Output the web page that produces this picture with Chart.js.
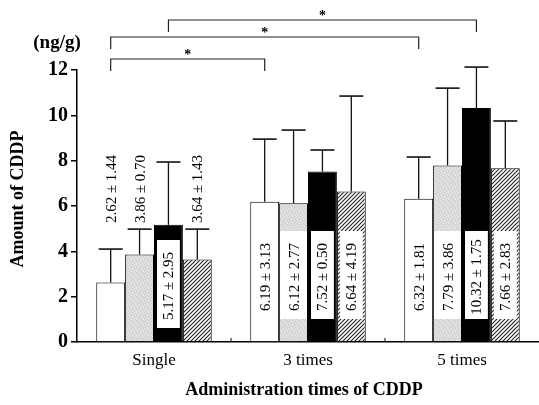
<!DOCTYPE html>
<html>
<head>
<meta charset="utf-8">
<script src="https://cdn.jsdelivr.net/npm/chart.js@4.4.1/dist/chart.umd.min.js"></script>
<style>
  html, body { margin: 0; padding: 0; background: #fff; }
  canvas { display: block; }
</style>
</head>
<body>
<canvas id="cddpChart" width="539" height="405"></canvas>
<script>
// Data
const categories = ['Single', '3 times', '5 times'];

const whiteMean = [2.62, 6.19, 6.32];
const grayMean = [3.86, 6.12, 7.79];
const blackMean = [5.17, 7.52, 10.32];
const hatchMean = [3.64, 6.64, 7.66];

const whiteSD = [1.44, 3.13, 1.81];
const graySD = [0.70, 2.77, 3.86];
const blackSD = [2.95, 0.50, 1.75];
const hatchSD = [1.43, 4.19, 2.83];

// tops of the drawn error bars as they appear in the figure
const whiteErrTop = [4.1, 8.95, 8.16];
const grayErrTop = [4.98, 9.35, 11.2];
const blackErrTop = [7.94, 8.47, 12.13];
const hatchErrTop = [4.98, 10.85, 9.75];

const yTicks = [0, 2, 4, 6, 8, 10, 12];

// significance brackets: [category, series] -> [category, series]
const comparisons = [
    [0, 0, 1, 0],
    [0, 0, 2, 0],
    [0, 2, 2, 2]
];

const SERIF = "'Liberation Serif', 'Times New Roman', serif";

function makeHatch() {
    const c = document.createElement('canvas');
    c.width = 4; c.height = 4;
    const g = c.getContext('2d');
    g.fillStyle = '#fff';
    g.fillRect(0, 0, 4, 4);
    g.strokeStyle = '#222';
    g.lineWidth = 1.1;
    g.beginPath();
    g.moveTo(-1, 5); g.lineTo(5, -1);
    g.moveTo(-1, 1); g.lineTo(1, -1);
    g.moveTo(3, 5); g.lineTo(5, 3);
    g.stroke();
    return g.createPattern(c, 'repeat');
}

function makeStipple() {
    const c = document.createElement('canvas');
    c.width = 6; c.height = 6;
    const g = c.getContext('2d');
    g.fillStyle = '#dcdcdc';
    g.fillRect(0, 0, 6, 6);
    g.fillStyle = '#c6c6c6';
    [[0, 0], [3, 1], [1, 3], [5, 4], [2, 5], [4, 2]].forEach(p => g.fillRect(p[0], p[1], 1, 1));
    g.fillStyle = '#ebebeb';
    [[2, 0], [5, 1], [0, 4], [3, 3], [4, 5]].forEach(p => g.fillRect(p[0], p[1], 1, 1));
    return g.createPattern(c, 'repeat');
}

const series = [
    { mean: whiteMean, sd: whiteSD, top: whiteErrTop, fill: '#fff' },
    { mean: grayMean, sd: graySD, top: grayErrTop, fill: makeStipple() },
    { mean: blackMean, sd: blackSD, top: blackErrTop, fill: '#000' },
    { mean: hatchMean, sd: hatchSD, top: hatchErrTop, fill: makeHatch() }
];

const extrasPlugin = {
    id: 'extras',
    afterDatasetsDraw(chart) {
        const ctx = chart.ctx;
        const y = chart.scales.y;
        const x = chart.scales.x;
        const area = chart.chartArea;

        // error bars (upper only)
        ctx.save();
        ctx.strokeStyle = '#111';
        series.forEach((s, i) => {
            const meta = chart.getDatasetMeta(i);
            meta.data.forEach((bar, j) => {
                const yt = y.getPixelForValue(s.top[j]);
                ctx.lineWidth = 1.3;
                ctx.beginPath();
                ctx.moveTo(bar.x, bar.y);
                ctx.lineTo(bar.x, yt);
                ctx.stroke();
                ctx.lineWidth = 1.6;
                ctx.beginPath();
                ctx.moveTo(bar.x - 12, yt);
                ctx.lineTo(bar.x + 12, yt);
                ctx.stroke();
            });
        });
        ctx.restore();

        // mean ± SD labels, rotated
        ctx.save();
        ctx.font = '15px ' + SERIF;
        ctx.textAlign = 'center';
        ctx.textBaseline = 'middle';
        series.forEach((s, i) => {
            const meta = chart.getDatasetMeta(i);
            meta.data.forEach((bar, j) => {
                const txt = s.mean[j].toFixed(2) + ' \u00b1 ' + s.sd[j].toFixed(2);
                let cy;
                if (j === 0 && i !== 2) {
                    cy = area.bottom - 153;
                } else {
                    cy = j === 0 ? area.bottom - 58 : area.bottom - 67;
                    const bw = i === 1 ? bar.width - 2 : bar.width - 6;
                    ctx.fillStyle = '#fff';
                    ctx.fillRect(bar.x - bw / 2, cy - 44, bw, 88);
                    cy += 2;
                }
                ctx.fillStyle = '#000';
                ctx.save();
                ctx.translate(bar.x + 1, cy);
                ctx.rotate(-Math.PI / 2);
                ctx.fillText(txt, 0, 0);
                ctx.restore();
            });
        });
        ctx.restore();

        // small marks between the groups on the x axis
        ctx.save();
        ctx.strokeStyle = '#000';
        ctx.lineWidth = 1;
        for (let k = 0; k < categories.length - 1; k++) {
            const bx = (x.getPixelForValue(k) + x.getPixelForValue(k + 1)) / 2;
            ctx.beginPath();
            ctx.moveTo(bx, area.bottom);
            ctx.lineTo(bx, area.bottom - 4);
            ctx.stroke();
        }
        ctx.restore();

        // significance brackets
        const levels = [59, 37, 20];
        ctx.save();
        ctx.strokeStyle = '#222';
        ctx.lineWidth = 1.2;
        ctx.fillStyle = '#000';
        ctx.font = 'bold 14px ' + SERIF;
        ctx.textAlign = 'center';
        ctx.textBaseline = 'middle';
        comparisons.forEach((c, k) => {
            const x1 = chart.getDatasetMeta(c[1]).data[c[0]].x;
            const x2 = chart.getDatasetMeta(c[3]).data[c[2]].x;
            const ly = levels[k];
            ctx.beginPath();
            ctx.moveTo(x1, ly + 12);
            ctx.lineTo(x1, ly);
            ctx.lineTo(x2, ly);
            ctx.lineTo(x2, ly + 12);
            ctx.stroke();
            ctx.fillText('*', (x1 + x2) / 2, ly - 4);
        });
        ctx.restore();

        // titles
        ctx.save();
        ctx.fillStyle = '#000';
        ctx.textAlign = 'center';
        ctx.textBaseline = 'middle';
        ctx.font = 'bold 19px ' + SERIF;
        ctx.fillText('(ng/g)', 57, 43);
        ctx.font = 'bold 18px ' + SERIF;
        ctx.fillText('Administration times of CDDP', 304, 390);
        ctx.translate(18, 199);
        ctx.rotate(-Math.PI / 2);
        ctx.fillText('Amount of CDDP', 0, 0);
        ctx.restore();
    }
};

new Chart(document.getElementById('cddpChart'), {
    type: 'bar',
    data: {
        labels: categories,
        datasets: series.map(s => ({
            data: s.mean,
            backgroundColor: s.fill,
            borderColor: '#000',
            borderWidth: 1,
            categoryPercentage: 0.75,
            barPercentage: 1.0
        }))
    },
    options: {
        responsive: false,
        animation: false,
        layout: { padding: { top: 70, left: 0, right: 0, bottom: 0 } },
        plugins: {
            legend: { display: false },
            tooltip: { enabled: false }
        },
        scales: {
            x: {
                grid: { display: false },
                border: { color: '#000', width: 1.5 },
                ticks: { color: '#000', font: { family: SERIF, size: 17 }, padding: 0 },
                afterFit: s => { s.height = 63; }
            },
            y: {
                min: 0,
                max: 12,
                afterBuildTicks: s => { s.ticks = yTicks.map(v => ({ value: v })); },
                ticks: { color: '#000', font: { family: SERIF, size: 20, weight: 'bold' }, padding: 3 },
                grid: { drawOnChartArea: false, drawTicks: true, tickLength: 6, color: '#000', lineWidth: 1.5 },
                border: { color: '#000', width: 1.5 },
                afterFit: s => { s.width = 77; }
            }
        }
    },
    plugins: [extrasPlugin]
});
</script>
</body>
</html>
